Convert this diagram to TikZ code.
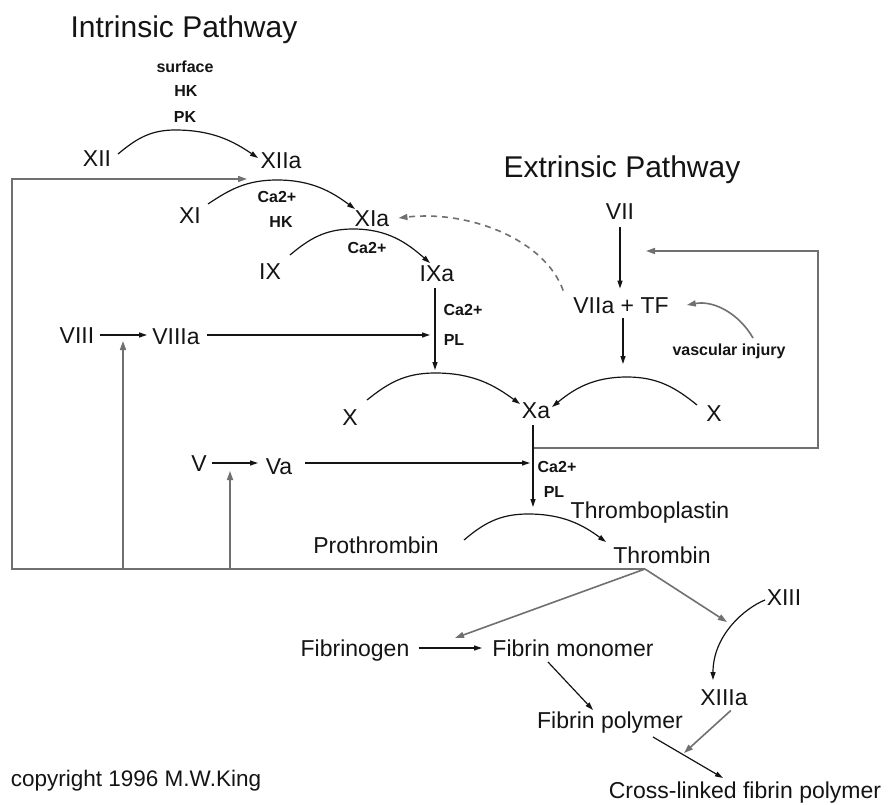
\documentclass[tikz,border=0pt]{standalone}
\usepackage{fontspec}
\setmainfont{Liberation Sans}
\usetikzlibrary{arrows.meta}
\definecolor{ink}{RGB}{20,20,20}
\definecolor{lgray}{RGB}{112,112,112}
\begin{document}
\begin{tikzpicture}[x=1pt,y=-1pt,
  lbl/.style={inner sep=0pt, text=ink, font=\fontsize{23}{23}\selectfont, text height=16.5pt, text depth=0pt},
  ttl/.style={inner sep=0pt, text=ink, font=\fontsize{30}{30}\selectfont, text height=21.5pt, text depth=0pt},
  sml/.style={inner sep=0pt, text=ink, font=\bfseries\fontsize{16}{16}\selectfont, text height=11.5pt, text depth=0pt},
  cpy/.style={inner sep=0pt, text=ink, font=\fontsize{22.5}{22.5}\selectfont, text height=16pt, text depth=0pt},
  blk/.style={draw=ink, line width=1.2pt},
  gry/.style={draw=lgray, line width=1.6pt},
  tipb/.style={-{Triangle[length=8pt,width=5pt]}},
  tipg/.style={-{Triangle[length=9pt,width=6pt]}},
]
\useasboundingbox (0,0) rectangle (889,805);
\fill[white] (0,0) rectangle (889,805);

% ---- titles
\node[ttl] (IntrT) at (184,27) {Intrinsic Pathway};
\node[ttl] (ExtrT) at (622,167) {Extrinsic Pathway};

% ---- small cofactor labels
\node[sml] (surf) at (185,67) {surface};
\node[sml] (hk1) at (186,91) {HK};
\node[sml] (pk) at (185,117) {PK};
\node[sml] (ca1) at (277,197) {Ca2+};
\node[sml] (hk2) at (281,222) {HK};
\node[sml] (ca2) at (367,248) {Ca2+};
\node[sml] (ca3) at (463,310) {Ca2+};
\node[sml] (pl1) at (454,340) {PL};
\node[sml] (ca4) at (557,467) {Ca2+};
\node[sml] (pl2) at (554,492) {PL};
\node[sml] (vasc) at (729,350) {vascular injury};

% ---- factors
\node[lbl] (XII) at (97,158) {XII};
\node[lbl] (XIIa) at (281,160) {XIIa};
\node[lbl] (XI) at (190,215) {XI};
\node[lbl] (XIa) at (372,218) {XIa};
\node[lbl] (IX) at (270,271) {IX};
\node[lbl] (IXa) at (437,273) {IXa};
\node[lbl] (VII) at (620,211) {VII};
\node[lbl] (VIIaTF) at (621,305) {VIIa + TF};
\node[lbl] (VIII) at (77,335) {VIII};
\node[lbl] (VIIIa) at (176,336) {VIIIa};
\node[lbl] (XL) at (350,417) {X};
\node[lbl] (Xa) at (536,410) {Xa};
\node[lbl] (XR) at (714,413) {X};
\node[lbl] (V) at (199,463) {V};
\node[lbl] (Va) at (279,466) {Va};
\node[lbl] (Thrpl) at (650,510) {Thromboplastin};
\node[lbl] (Proth) at (376,545) {Prothrombin};
\node[lbl] (Thr) at (662,555) {Thrombin};
\node[lbl] (XIII) at (784,597) {XIII};
\node[lbl] (XIIIa) at (724,697) {XIIIa};
\node[lbl] (Fbg) at (355,648) {Fibrinogen};
\node[lbl] (FbM) at (573,648) {Fibrin monomer};
\node[lbl] (FbP) at (610,720) {Fibrin polymer};
\node[lbl] (CL) at (745,790) {Cross-linked fibrin polymer};
\node[cpy] (copy) at (136,778) {copyright 1996 M.W.King};

% ---- named points
\coordinate (Tb) at (645,569);
\coordinate (RL) at (12,569);
\coordinate (RT) at (12,179);
\coordinate (RTa) at (247,179);
\coordinate (up1s) at (123,569);
\coordinate (up1e) at (123,341);
\coordinate (up2s) at (230,569);
\coordinate (up2e) at (230,471);
\coordinate (Xv) at (533,448);
\coordinate (loopA) at (818,448);
\coordinate (loopB) at (818,251);
\coordinate (loopE) at (646,251);
\coordinate (IXv1) at (435,288);
\coordinate (IXv2) at (435,370);
\coordinate (v8a) at (100,335);
\coordinate (v8b) at (147,335);
\coordinate (v8c) at (207,335);
\coordinate (IXh) at (430,335);
\coordinate (Xv1) at (533,425);
\coordinate (Xv2) at (533,507);
\coordinate (v5a) at (212,463);
\coordinate (v5b) at (258,463);
\coordinate (va1) at (305,463);
\coordinate (Vah) at (530,463);

% ---- gray feedback lines
\draw[gry,tipg] (Tb) -- (RL) -- (RT) -- (RTa);
\draw[gry,tipg] (up1s) -- (up1e);
\draw[gry,tipg] (up2s) -- (up2e);
\draw[gry,tipg] (Xv) -- (loopA) -- (loopB) -- (loopE);
\draw[gry,tipg,dash pattern=on 6pt off 5pt] ([xshift=-10pt,yshift=6pt]VIIaTF.north west) .. controls (545,240) and (470,210) .. ([xshift=9pt]XIa.east);
\draw[gry,tipg] ([xshift=24pt,yshift=6pt]vasc.north) .. controls (740,315) and (715,300) .. ([xshift=18pt]VIIaTF.east);
\draw[gry,tipg] (Tb) -- (455,638);
\draw[gry,tipg] (Tb) -- (727,622);
\draw[gry,tipg] ([xshift=-17pt,yshift=-5pt]XIIIa.south east) -- (684,753);

% ---- black reaction arcs
\draw[blk,tipb] (118,154) .. controls (135,140) and (149,130) .. (175,130) .. controls (212,130) and (233,141) .. (258,158);
\draw[blk,tipb] (208,204) .. controls (229,190) and (246,180) .. (277,180) .. controls (312,180) and (332,192) .. (355,209);
\draw[blk,tipb] (290,255) .. controls (309,239) and (325,229) .. (353,229) .. controls (388,229) and (407,243) .. (430,263);
\draw[blk,tipb] (367,400) .. controls (387,384) and (404,373) .. (435,373) .. controls (473,373) and (494,385) .. (520,404);
\draw[blk,tipb] (697,405) .. controls (676,388) and (658,377) .. (627,377) .. controls (593,377) and (574,389) .. (552,407);
\draw[blk,tipb] (464,540) .. controls (483,524) and (499,514) .. (528,514) .. controls (563,514) and (583,525) .. (606,542);
\draw[blk,tipb] (765,600) .. controls (745,608) and (713,635) .. (713,680);

% ---- black straight arrows
\draw[blk,tipb] (v8a) -- (v8b);
\draw[blk,tipb] (v8c) -- (IXh);
\draw[blk,tipb] (IXv1) -- (IXv2);
\draw[blk,tipb] ([yshift=-8pt]VII.south) -- ([yshift=8pt]VIIaTF.north -| VII.south);
\draw[blk,tipb] (623,318) -- (623,364);
\draw[blk,tipb] (v5a) -- (v5b);
\draw[blk,tipb] (va1) -- (Vah);
\draw[blk,tipb] (Xv1) -- (Xv2);
\draw[blk,tipb] ([xshift=9pt]Fbg.east) -- (482,648);
\draw[blk,tipb] (548,662) -- (593,710);
\draw[blk,tipb] (653,737) -- (723,778);
\end{tikzpicture}
\end{document}
